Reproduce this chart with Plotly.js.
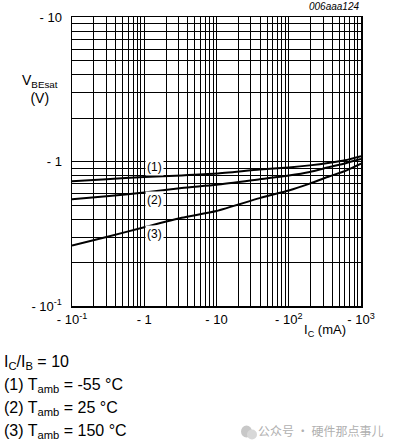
<!DOCTYPE html>
<html>
<head>
<meta charset="utf-8">
<script src="https://cdn.plot.ly/plotly-3.0.1.min.js"></script>
<style>html,body{margin:0;padding:0;background:#fff;}#chart{width:397px;height:445px;}</style>
</head>
<body>
<div id="chart"></div>
<script>
// Collector current magnitude IC (mA); values are negative in the datasheet (PNP)
const icMag = [0.1, 0.3, 1, 3.3, 10, 39.6, 100, 195, 368, 600, 1000];
// VBEsat magnitude (V) for each curve
const vbe1 = [0.73, 0.755, 0.78, 0.80, 0.825, 0.88, 0.91, 0.94, 0.98, 1.02, 1.09];
const vbe2 = [0.547, 0.575, 0.61, 0.656, 0.69, 0.753, 0.80, 0.847, 0.917, 0.97, 1.04];
const vbe3 = [0.262, 0.30, 0.351, 0.408, 0.455, 0.558, 0.63, 0.703, 0.791, 0.86, 0.968];
const curveLabels = ["(1)", "(2)", "(3)"];
const labelX = [1.40, 1.40, 1.40];
const labelY = [0.909, 0.545, 0.313];
const xTickVals = [0.1, 1, 10, 100, 1000];
const xTickText = ["- 10<sup>-1</sup>", "- 1", "- 10", "- 10<sup>2</sup>", "- 10<sup>3</sup>"];
const yTickVals = [0.1, 1, 10];
const yTickText = ["- 10<sup>-1</sup>", "- 1", "- 10"];
const notes = ["I<sub>C</sub>/I<sub>B</sub> = 10", "(1) T<sub>amb</sub> = -55 °C", "(2) T<sub>amb</sub> = 25 °C", "(3) T<sub>amb</sub> = 150 °C"];

const font = "Liberation Sans, Arial, sans-serif";
const line = {color: "black", width: 2, shape: "spline", smoothing: 0.6};
const traces = [vbe1, vbe2, vbe3].map(v => ({
  x: icMag, y: v, type: "scatter", mode: "lines", line: line, hoverinfo: "skip", showlegend: false
}));

const annotations = [];
curveLabels.forEach((t, i) => annotations.push({
  x: Math.log10(labelX[i]), y: Math.log10(labelY[i]), xref: "x", yref: "y", text: t,
  showarrow: false, bgcolor: "white", borderpad: 1, font: {family: font, size: 12, color: "black"}
}));
annotations.push({x: 1, y: 1, xref: "paper", yref: "paper", xanchor: "right", yanchor: "bottom", yshift: 3,
  text: "<i>006aaa124</i>", showarrow: false, font: {family: font, size: 10, color: "black"}});
annotations.push({x: -0.04, y: 0.75, xref: "paper", yref: "paper", xanchor: "right", yanchor: "middle",
  text: "V<sub>BEsat</sub><br>(V)", align: "center", showarrow: false, font: {family: font, size: 14, color: "black"}});
annotations.push({x: 0.955, y: 0, xref: "paper", yref: "paper", xanchor: "right", yanchor: "top", yshift: -14,
  text: "I<sub>C</sub> (mA)", showarrow: false, font: {family: font, size: 13, color: "black"}});
notes.forEach((t, i) => annotations.push({
  x: 0, y: 0, xref: "paper", yref: "paper", xanchor: "left", yanchor: "middle",
  xshift: -70, yshift: -(56 + i * 23), text: t, showarrow: false, align: "left",
  font: {family: font, size: 16, color: "black"}
}));
annotations.push({x: 1, y: 0, xref: "paper", yref: "paper", xanchor: "right", yanchor: "middle",
  xshift: 24, yshift: -124, text: "公众号 · 硬件那点事儿", showarrow: false,
  font: {family: "Noto Sans CJK SC, sans-serif", size: 12, color: "#b0b0b0"}});

// small watermark icon (two speech bubbles), paper coords
const shapes = [
  {type: "circle", xref: "paper", yref: "paper", x0: (241 - 72) / 289, x1: (252 - 72) / 289,
   y0: (305 - 436) / 288, y1: (305 - 424) / 288, fillcolor: "#c8c8c8", line: {width: 0}},
  {type: "circle", xref: "paper", yref: "paper", x0: (247 - 72) / 289, x1: (257 - 72) / 289,
   y0: (305 - 438) / 288, y1: (305 - 428) / 288, fillcolor: "#d8d8d8", line: {width: 0}}
];

const layout = {
  width: 397, height: 445,
  margin: {l: 72, r: 36, t: 17, b: 139},
  paper_bgcolor: "white", plot_bgcolor: "white",
  font: {family: font, size: 13, color: "black"},
  xaxis: {
    type: "log", range: [-1, 3], tickvals: xTickVals, ticktext: xTickText,
    showgrid: true, gridcolor: "black", gridwidth: 1,
    minor: {dtick: "D1", showgrid: true, gridcolor: "black", gridwidth: 1, ticks: ""},
    showline: true, linecolor: "black", linewidth: 1.5, mirror: true,
    ticks: "", zeroline: false, tickfont: {family: font, size: 13, color: "black"}, ticklabelstandoff: 1
  },
  yaxis: {
    type: "log", range: [-1, 1], tickvals: yTickVals, ticktext: yTickText,
    showgrid: true, gridcolor: "black", gridwidth: 1,
    minor: {dtick: "D1", showgrid: true, gridcolor: "black", gridwidth: 1, ticks: ""},
    showline: true, linecolor: "black", linewidth: 1.5, mirror: true,
    ticks: "", zeroline: false, tickfont: {family: font, size: 13, color: "black"}, ticklabelstandoff: 6
  },
  shapes: shapes,
  annotations: annotations
};
Plotly.newPlot("chart", traces, layout, {staticPlot: true, displayModeBar: false});
</script>
</body>
</html>
